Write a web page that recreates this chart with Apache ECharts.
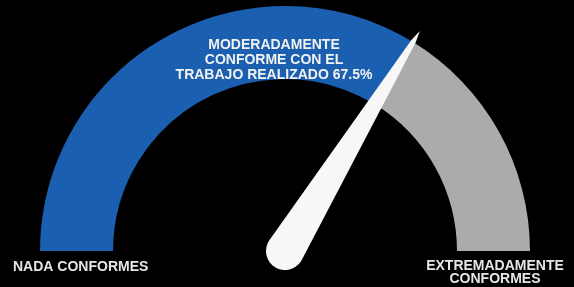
<!DOCTYPE html>
<html>
<head>
<meta charset="utf-8">
<script src="https://cdn.jsdelivr.net/npm/echarts@6/dist/echarts.min.js"></script>
<style>
html,body{margin:0;padding:0;background:#000;}
#c{width:574px;height:287px;}
</style>
</head>
<body>
<div id="c"></div>
<script>
const gaugeValues = [67.5];
const scaleRange = [0, 100];
const valueLabel = 'MODERADAMENTE\nCONFORME CON EL\nTRABAJO REALIZADO';
const minLabel = 'NADA CONFORMES';
const maxLabel = 'EXTREMADAMENTE\nCONFORMES';

const chart = echarts.init(document.getElementById('c'));
const font = '"Liberation Sans", Arial, sans-serif';
chart.setOption({
  backgroundColor: '#000',
  animation: false,
  series: [{
    type: 'gauge',
    center: [285, 251],
    radius: 245,
    startAngle: 180,
    endAngle: 0,
    min: scaleRange[0],
    max: scaleRange[1],
    axisLine: {
      lineStyle: {
        width: 73,
        color: [[gaugeValues[0] / scaleRange[1], '#1a5fb0'], [1, '#ababab']]
      }
    },
    axisTick: {show: false},
    splitLine: {show: false},
    axisLabel: {show: false},
    anchor: {show: false},
    title: {show: false},
    pointer: {
      icon: 'path://M19 0 L21.5 12 L38 258 A19 19 0 0 1 0 258 L16.5 12 Z',
      length: 277,
      width: 38,
      offsetCenter: [0, 19],
      keepAspect: false,
      itemStyle: {color: '#f7f7f7'}
    },
    detail: {
      offsetCenter: [-11, -191],
      fontSize: 14,
      fontWeight: 'bold',
      lineHeight: 15,
      fontFamily: font,
      color: '#f2f2f2',
      formatter: v => valueLabel + ' ' + v + '%'
    },
    data: [{value: gaugeValues[0]}]
  }],
  graphic: [
    {
      type: 'text', left: 13, top: 260,
      style: {text: minLabel, font: 'bold 14px ' + font, fill: '#e6e6e6'}
    },
    {
      type: 'text', x: 495, y: 260,
      style: {text: maxLabel, font: 'bold 14px ' + font, fill: '#e6e6e6', align: 'center', lineHeight: 13}
    }
  ]
});
</script>
</body>
</html>
